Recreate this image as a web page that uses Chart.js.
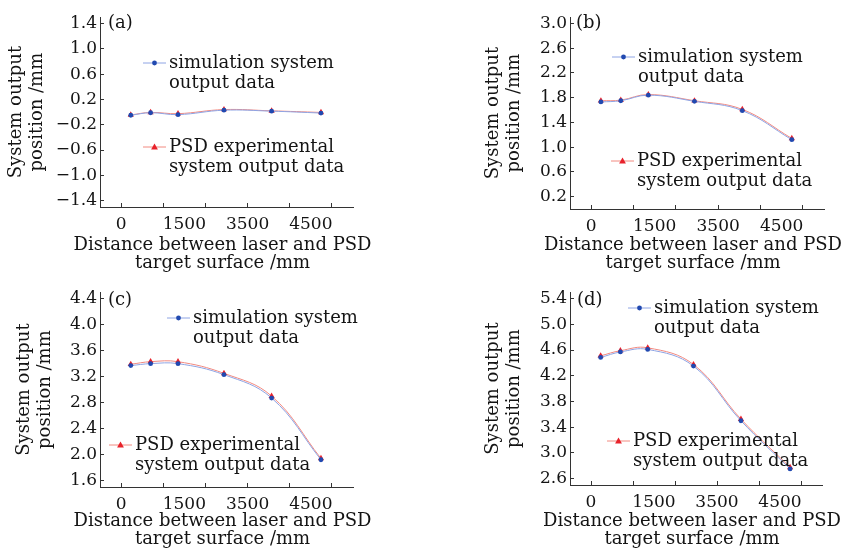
<!DOCTYPE html>
<html>
<head>
<meta charset="utf-8">
<script src="https://cdn.jsdelivr.net/npm/chart.js@4.4.1/dist/chart.umd.min.js"></script>
<style>
  html, body { margin: 0; padding: 0; background: #fff; }
  #wrap { position: relative; width: 842px; height: 551px; }
  .panel { position: absolute; }
</style>
</head>
<body>
<div id="wrap">
  <div class="panel" style="left:0;top:0;width:421px;height:275px"><canvas id="chartA"></canvas></div>
  <div class="panel" style="left:421px;top:0;width:421px;height:275px"><canvas id="chartB"></canvas></div>
  <div class="panel" style="left:0;top:275px;width:421px;height:276px"><canvas id="chartC"></canvas></div>
  <div class="panel" style="left:421px;top:275px;width:421px;height:276px"><canvas id="chartD"></canvas></div>
</div>
<script>
// distance between laser and PSD target surface (mm)
const distances = [230, 700, 1350, 2440, 3570, 4740];

// x tick marks every 1000, labels as printed in the figure
const xTickValues = [0, 1000, 1500, 2000, 3000, 4000, 4500, 5000];
const xTickText = { 0: "0", 1500: "1500", 3000: "3500", 4500: "4500" };

// (a)
const simA = [-0.05, -0.01, -0.04, 0.03, 0.015, -0.015];
const psdA = [-0.045, -0.005, -0.025, 0.04, 0.02, -0.005];
const yTicksA = [-1.4, -1.0, -0.6, -0.2, 0.2, 0.6, 1.0, 1.4];
// (b)
const simB = [1.73, 1.75, 1.84, 1.74, 1.59, 1.12];
const psdB = [1.75, 1.76, 1.85, 1.75, 1.61, 1.14];
const yTicksB = [0.2, 0.6, 1.0, 1.4, 1.8, 2.2, 2.6, 3.0];
// (c)
const simC = [3.37, 3.40, 3.40, 3.23, 2.87, 1.92];
const psdC = [3.39, 3.43, 3.43, 3.25, 2.90, 1.94];
const yTicksC = [1.6, 2.0, 2.4, 2.8, 3.2, 3.6, 4.0, 4.4];
// (d)
const simD = [4.485, 4.57, 4.61, 4.35, 3.50, 2.75];
const psdD = [4.51, 4.59, 4.635, 4.375, 3.525, 2.775];
const yTicksD = [2.6, 3.0, 3.4, 3.8, 4.2, 4.6, 5.0, 5.4];

const simLabel = ["simulation system", "output data"];
const psdLabel = ["PSD experimental", "system output data"];
const yTitle = ["System output", "position /mm"];
const xTitle = ["Distance between laser and PSD", "target surface /mm"];

const FONT = "DejaVu Serif";
const TEXT = "#141414";
const BLUE = "#2149b0", BLUE_LINE = "#8ea4e4";
const RED = "#e8222b", RED_LINE = "#f28a80";

// legend, panel tag and x title (wider than the axis), drawn by hand
const panelDecor = {
  id: "panelDecor",
  afterDraw(chart, args, opts) {
    const ctx = chart.ctx;
    const area = chart.chartArea;
    ctx.save();
    ctx.font = `${opts.size}px "${FONT}"`;
    ctx.fillStyle = TEXT;
    ctx.textBaseline = "middle";

    // x axis title, allowed to run past the axis ends
    ctx.textAlign = "center";
    const midX = (area.left + area.right) / 2 - 4;
    xTitle.forEach((t, i) => ctx.fillText(t, midX, opts.titleY + i * 18));

    ctx.textAlign = "left";
    ctx.fillText(opts.tag, opts.tagX, opts.tagY);
    opts.items.forEach((it) => {
      ctx.strokeStyle = it.line;
      ctx.lineWidth = 1;
      ctx.beginPath();
      ctx.moveTo(it.x, it.y);
      ctx.lineTo(it.x + 23, it.y);
      ctx.stroke();
      ctx.fillStyle = it.color;
      ctx.beginPath();
      const cx = it.x + 11.5;
      if (it.shape === "circle") {
        ctx.arc(cx, it.y, 2.4, 0, Math.PI * 2);
      } else {
        ctx.moveTo(cx, it.y - 3.6);
        ctx.lineTo(cx + 3.4, it.y + 2.6);
        ctx.lineTo(cx - 3.4, it.y + 2.6);
        ctx.closePath();
      }
      ctx.fill();
      ctx.fillStyle = TEXT;
      it.text.forEach((t, i) => ctx.fillText(t, it.x + 26, it.y + i * 20));
    });
    ctx.restore();
  },
};

function makePanel(id, sim, psd, yTicks, box, decor) {
  const fmt = (v) => (v < 0 ? "\u2212" + Math.abs(v).toFixed(1) : v.toFixed(1));
  new Chart(document.getElementById(id), {
    type: "line",
    data: {
      datasets: [
        {
          label: "simulation system output data",
          data: distances.map((x, i) => ({ x, y: sim[i] })),
          borderColor: BLUE_LINE,
          backgroundColor: BLUE,
          borderWidth: 1,
          pointRadius: 2.4,
          pointBorderWidth: 0,
          tension: 0.4,
        },
        {
          label: "PSD experimental system output data",
          data: distances.map((x, i) => ({ x, y: psd[i] })),
          borderColor: RED_LINE,
          backgroundColor: RED,
          borderWidth: 1,
          pointStyle: "triangle",
          pointRadius: 3.6,
          pointBorderWidth: 0,
          tension: 0.4,
        },
      ],
    },
    options: {
      responsive: false,
      animation: false,
      layout: { padding: { left: box.padLeft, top: box.top, right: box.right, bottom: 0 } },
      plugins: { legend: { display: false }, tooltip: { enabled: false }, panelDecor: decor },
      scales: {
        x: {
          type: "linear",
          min: -500,
          max: 5500,
          afterBuildTicks: (s) => { s.ticks = xTickValues.map((v) => ({ value: v })); },
          afterFit: (s) => { s.height = box.xHeight; },
          border: { display: true, color: "#333", width: 1 },
          grid: {
            drawOnChartArea: false,
            drawTicks: true,
            tickLength: -4,
            tickColor: (c) => (c.tick && c.tick.value % 1000 === 0 ? "#333" : "rgba(0,0,0,0)"),
          },
          ticks: {
            autoSkip: false,
            maxRotation: 0,
            padding: 11,
            color: TEXT,
            font: { family: FONT, size: 17 },
            callback: (v) => xTickText[v] || "",
          },
          title: { display: false },
        },
        y: {
          type: "linear",
          min: box.yMin,
          max: box.yMax,
          afterBuildTicks: (s) => { s.ticks = yTicks.map((v) => ({ value: v })); },
          afterFit: (s) => { s.width = box.yWidth; },
          border: { display: true, color: "#333", width: 1 },
          grid: { drawOnChartArea: false, drawTicks: true, tickLength: -4, tickColor: "#333" },
          ticks: {
            padding: 7,
            color: TEXT,
            font: { family: FONT, size: 17 },
            callback: (v) => fmt(v),
          },
          title: {
            display: true,
            text: yTitle,
            color: TEXT,
            font: { family: FONT, size: 18, lineHeight: 1.15 },
            padding: { top: 6, bottom: 0 },
          },
        },
      },
    },
    plugins: [panelDecor],
  });
}

function sizeCanvas(id, w, h) {
  const c = document.getElementById(id);
  c.width = w; c.height = h;
  c.style.width = w + "px"; c.style.height = h + "px";
}
sizeCanvas("chartA", 421, 275);
sizeCanvas("chartB", 421, 275);
sizeCanvas("chartC", 421, 276);
sizeCanvas("chartD", 421, 276);

makePanel("chartA", simA, psdA, yTicksA,
  { padLeft: 0, yWidth: 100, top: 12, right: 68, xHeight: 68, yMin: -1.5, yMax: 1.5 },
  { size: 18, titleY: 245, tag: "(a)", tagX: 108, tagY: 23, items: [
    { x: 143, y: 63, line: BLUE_LINE, color: BLUE, shape: "circle", text: simLabel },
    { x: 143, y: 147, line: RED_LINE, color: RED, shape: "triangle", text: psdLabel },
  ] });

makePanel("chartB", simB, psdB, yTicksB,
  { padLeft: 56, yWidth: 93, top: 11, right: 18, xHeight: 66, yMin: 0, yMax: 3.1 },
  { size: 18, titleY: 245, tag: "(b)", tagX: 155, tagY: 23, items: [
    { x: 191, y: 57, line: BLUE_LINE, color: BLUE, shape: "circle", text: simLabel },
    { x: 190, y: 161, line: RED_LINE, color: RED, shape: "triangle", text: psdLabel },
  ] });

makePanel("chartC", simC, psdC, yTicksC,
  { padLeft: 8, yWidth: 92, top: 11, right: 68, xHeight: 64, yMin: 1.5, yMax: 4.5 },
  { size: 18, titleY: 246, tag: "(c)", tagX: 108, tagY: 25, items: [
    { x: 167, y: 43, line: BLUE_LINE, color: BLUE, shape: "circle", text: simLabel },
    { x: 109, y: 170, line: RED_LINE, color: RED, shape: "triangle", text: psdLabel },
  ] });

makePanel("chartD", simD, psdD, yTicksD,
  { padLeft: 56, yWidth: 93, top: 11, right: 20, xHeight: 66, yMin: 2.5, yMax: 5.5 },
  { size: 18, titleY: 246, tag: "(d)", tagX: 156, tagY: 25, items: [
    { x: 207, y: 33, line: BLUE_LINE, color: BLUE, shape: "circle", text: simLabel },
    { x: 186, y: 166, line: RED_LINE, color: RED, shape: "triangle", text: psdLabel },
  ] });
</script>
</body>
</html>
